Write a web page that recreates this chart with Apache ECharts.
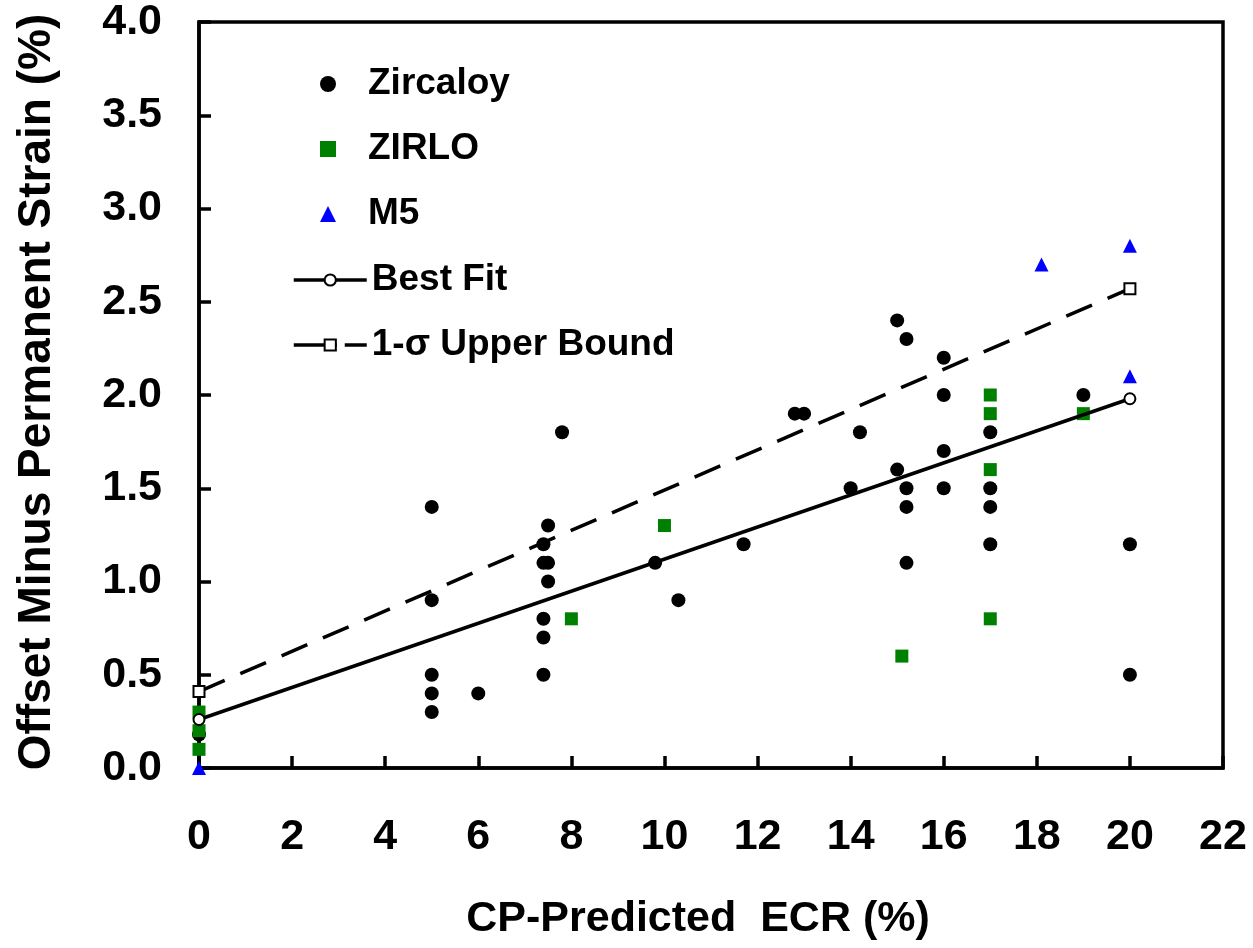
<!DOCTYPE html>
<html>
<head>
<meta charset="utf-8">
<script src="https://cdn.jsdelivr.net/npm/echarts@6/dist/echarts.min.js"></script>
<style>
  html, body { margin: 0; padding: 0; background: #fff; }
  #chart { width: 1253px; height: 948px; }
</style>
</head>
<body>
<div id="chart"></div>
<script>
// data: [ECR %, strain %]
const zircaloy = [
  [0, 0.18],
  [5, 1.4], [5, 0.9], [5, 0.5], [5, 0.4], [5, 0.3],
  [6, 0.4],
  [7.4, 1.2], [7.4, 1.1], [7.4, 0.8], [7.4, 0.7], [7.4, 0.5],
  [7.5, 1.3], [7.5, 1.1], [7.5, 1.0],
  [7.8, 1.8],
  [9.8, 1.1], [10.3, 0.9], [11.7, 1.2],
  [12.8, 1.9], [13.0, 1.9],
  [14.0, 1.5], [14.2, 1.8],
  [15.0, 2.4], [15.0, 1.6],
  [15.2, 2.3], [15.2, 1.5], [15.2, 1.4], [15.2, 1.1],
  [16, 2.2], [16, 2.0], [16, 1.7], [16, 1.5],
  [17, 1.8], [17, 1.5], [17, 1.4], [17, 1.2],
  [19, 2.0],
  [20, 1.2], [20, 0.5]
];
const zirlo = [
  [0, 0.3], [0, 0.2], [0, 0.1],
  [8, 0.8], [10, 1.3], [15.1, 0.6],
  [17, 2.0], [17, 1.9], [17, 1.6], [17, 0.8],
  [19, 1.9]
];
const m5 = [[0, 0.0], [18.1, 2.7], [20, 2.8], [20, 2.1]];
const bestFit = [[0, 0.26], [20, 1.98]];
const upperBound = [[0, 0.41], [20, 2.57]];

const FONT = "'Liberation Sans', Arial, sans-serif";

const chart = echarts.init(document.getElementById('chart'));

const legendText = { fontFamily: FONT, fontWeight: 'bold', fontSize: 37, color: '#000', lineHeight: 40 };

chart.setOption({
  backgroundColor: '#fff',
  animation: false,
  grid: {
    left: 199, right: 30, top: 22, bottom: 180,
    show: true, borderColor: '#000', borderWidth: 3.5
  },
  legend: [
    {
      // point series
      orient: 'vertical',
      left: 315, top: 59,
      itemWidth: 16, itemHeight: 16, itemGap: 25,
      textStyle: Object.assign({ padding: [0, 0, 0, 27] }, legendText),
      data: ['Zircaloy', 'ZIRLO', 'M5']
    },
    {
      // fitted lines
      orient: 'vertical',
      left: 287, top: 255,
      itemWidth: 73, itemHeight: 14, itemGap: 25,
      textStyle: legendText,
      data: [
        { name: 'Best Fit', lineStyle: { width: 3.5, color: '#000', type: 'solid' } },
        { name: '1-σ Upper Bound', lineStyle: { width: 3.5, color: '#000', type: [43, 8] } }
      ]
    }
  ],
  xAxis: {
    type: 'value', min: 0, max: 22, interval: 2,
    name: 'CP-Predicted  ECR (%)',
    nameLocation: 'middle', nameGap: 130,
    nameTextStyle: {
      fontFamily: FONT, fontWeight: 'bold', fontSize: 43, color: '#000',
      padding: [0, 26, 0, 0]
    },
    axisLine: { lineStyle: { color: '#000', width: 3.5 } },
    axisTick: { inside: true, length: 12, lineStyle: { color: '#000', width: 3.5 } },
    axisLabel: { margin: 48, fontFamily: FONT, fontWeight: 'bold', fontSize: 43, color: '#000' },
    splitLine: { show: false }
  },
  yAxis: {
    type: 'value', min: 0, max: 4, interval: 0.5,
    name: 'Offset Minus Permanent Strain (%)',
    nameLocation: 'middle', nameGap: 139,
    nameTextStyle: {
      fontFamily: FONT, fontWeight: 'bold', fontSize: 46, color: '#000',
      padding: [0, 0, 0, 6]
    },
    axisLine: { lineStyle: { color: '#000', width: 3.5 } },
    axisTick: { inside: true, length: 12, lineStyle: { color: '#000', width: 3.5 } },
    axisLabel: {
      margin: 37, fontFamily: FONT, fontWeight: 'bold', fontSize: 43, color: '#000',
      formatter: v => v.toFixed(1)
    },
    splitLine: { show: false }
  },
  series: [
    {
      name: 'Best Fit', type: 'line', data: bestFit,
      symbol: 'emptyCircle', symbolSize: 11,
      lineStyle: { color: '#000', width: 3.5 },
      itemStyle: { color: '#000', borderWidth: 2 }
    },
    {
      name: '1-σ Upper Bound', type: 'line', data: upperBound,
      symbol: 'emptyRect', symbolSize: 11,
      lineStyle: { color: '#000', width: 3.5, type: [28, 17] },
      itemStyle: { color: '#000', borderWidth: 2 }
    },
    {
      name: 'Zircaloy', type: 'scatter', data: zircaloy,
      symbol: 'circle', symbolSize: 14,
      itemStyle: { color: '#000', opacity: 1 }
    },
    {
      name: 'ZIRLO', type: 'scatter', data: zirlo,
      symbol: 'rect', symbolSize: 13,
      itemStyle: { color: '#008000', opacity: 1 }
    },
    {
      name: 'M5', type: 'scatter', data: m5,
      symbol: 'triangle', symbolSize: 14,
      itemStyle: { color: '#0000ff', opacity: 1 }
    }
  ]
});
</script>
</body>
</html>
